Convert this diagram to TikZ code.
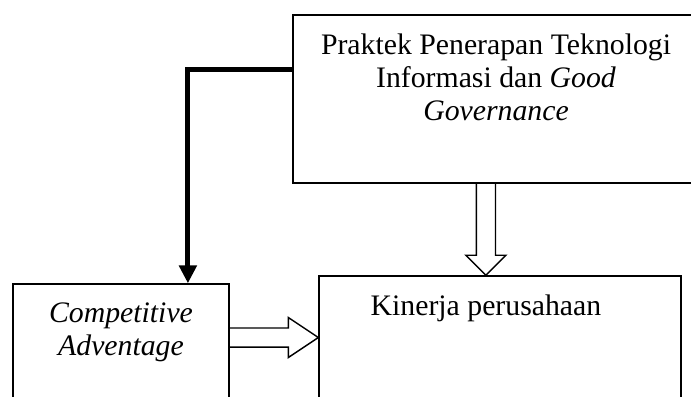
\documentclass[tikz,border=0pt]{standalone}
\usepackage{fontspec}
\setmainfont{Liberation Serif}
\usetikzlibrary{positioning,arrows.meta,calc}

\begin{document}
\begin{tikzpicture}[
    x=0.42pt,
    y=-0.42pt,
    font=\fontsize{12.5pt}{13.9pt}\selectfont,
    box/.style={
        draw=black,
        line width=0.6pt,
        inner sep=0pt
    },
    lbl/.style={
        inner sep=0pt,
        align=center,
        node distance=8.1pt
    },
    link/.style={
        -{Triangle[length=7.5pt,width=7.2pt]},
        line width=2.1pt,
        line join=miter
    },
    hollow/.style={
        draw=black,
        line width=0.6pt,
        line join=miter,
        to path={
            ($(\tikztotarget)!#1!(\tikztostart)$) coordinate (ah)
            ($(\tikztostart)!4pt!90:(\tikztotarget)$)
            -- ($(ah)!4pt!90:(\tikztotarget)$)
            -- ($(ah)!8.4pt!90:(\tikztotarget)$)
            -- (\tikztotarget)
            -- ($(ah)!8.4pt!-90:(\tikztotarget)$)
            -- ($(ah)!4pt!-90:(\tikztotarget)$)
            -- ($(\tikztostart)!4pt!-90:(\tikztotarget)$)
        }
    }
]
\useasboundingbox (0,0) rectangle (691,396);
\clip (0,0) rectangle (691,396);

% top box
\node[box, minimum width=170.5pt, minimum height=70.6pt] (prak) at (496,99) {};
\node[lbl, below=of prak.north] (praktxt)
{Praktek Penerapan Teknologi\\
Informasi dan \textit{Good}\\
\textit{Governance}};

% bottom row
\node[box, minimum width=90.7pt, minimum height=48.3pt] (cadv) at (121,341.5) {};
\node[lbl, below=of cadv.north] (cadvtxt)
{\textit{Competitive}\\
\textit{Adventage}};

\node[box, minimum width=152pt, minimum height=51.7pt] (kin) at (500,337.5) {};
\node[lbl, below=of kin.north, xshift=-5.9pt] (kintxt) {Kinerja perusahaan};

% connectors
\draw[link] ([yshift=12.6pt]prak.west) -| ([xshift=28.1pt]cadv.north);

\coordinate (ha) at (cadv.east |- kin.west);
\draw[hollow=12.6pt] (ha) to (kin.west);

\coordinate (vb) at ([xshift=-5.9pt]kin.north);
\coordinate (va) at (vb |- prak.south);
\draw[hollow=8.4pt] (va) to (vb);

\end{tikzpicture}
\end{document}
